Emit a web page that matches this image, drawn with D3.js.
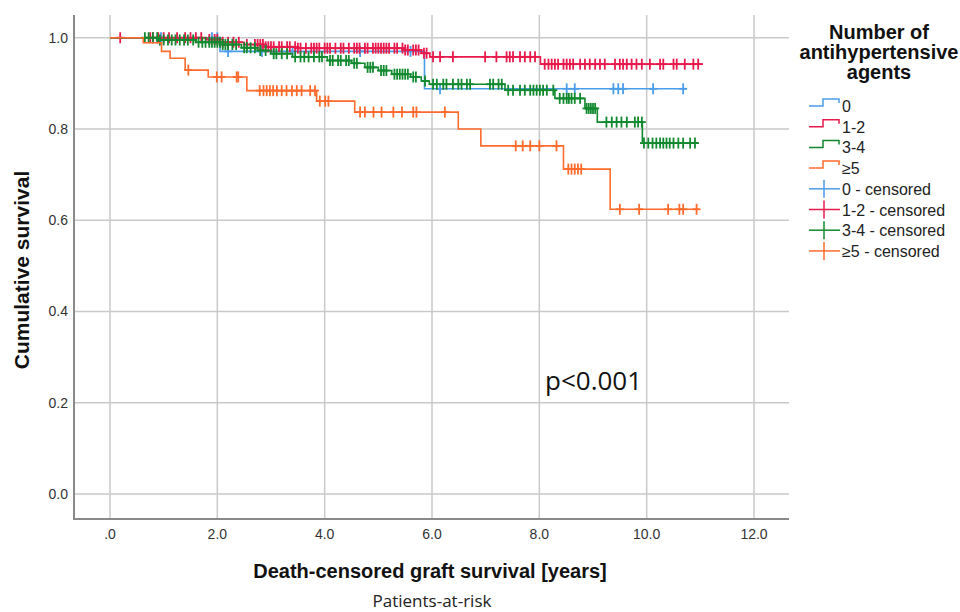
<!DOCTYPE html>
<html>
<head>
<meta charset="utf-8">
<script src="https://cdn.jsdelivr.net/npm/d3@7"></script>
<style>
  html, body { margin: 0; padding: 0; background: #fff; }
  svg { display: block; }
</style>
</head>
<body>
<svg id="chart" width="960" height="612"></svg>
<script>
// ---------------- DATA ----------------
const groups = ["0", "1-2", "3-4", "≥5"];
const legendTitle = ["Number of", "antihypertensive", "agents"];
const xTicks = [0, 2, 4, 6, 8, 10, 12];
const xTickLabels = [".0", "2.0", "4.0", "6.0", "8.0", "10.0", "12.0"];
const yTicks = [0, 0.2, 0.4, 0.6, 0.8, 1.0];
const yTickLabels = ["0.0", "0.2", "0.4", "0.6", "0.8", "1.0"];

// step events [time, survival] and end of follow-up per group
const steps0 = [[0, 1], [2.05, 0.97], [5.86, 0.888]];
const end0 = 10.74;
const censor0 = [0.95, 1.9, 2.0, 2.2, 2.83, 3.4, 4.66, 5.6, 6.15, 8.51, 8.66, 9.38, 9.47, 9.56, 10.12, 10.68];

const steps12 = [[0, 1], [1.8, 0.996], [2.1, 0.99], [2.5, 0.985], [2.9, 0.98], [3.5, 0.977],
  [5.5, 0.973], [5.8, 0.966], [5.96, 0.958], [8.02, 0.942]];
const end12 = 11.05;
const censor12 = [0.19, 0.75, 0.8, 0.9, 1.0, 1.1, 1.25, 1.4, 1.5, 1.6, 1.7, 1.85, 1.95, 2.0, 2.1,
  2.2, 2.3, 2.4, 2.55, 2.7, 2.75, 2.8, 2.85, 2.9, 2.95, 3.0, 3.05, 3.15, 3.2, 3.3, 3.35, 3.45, 3.5,
  3.55, 3.65, 3.75, 3.8, 3.85, 3.9, 4.0, 4.05, 4.1, 4.2, 4.3, 4.35, 4.45, 4.55, 4.6, 4.65, 4.75, 4.8,
  4.9, 4.95, 5.0, 5.05, 5.1, 5.15, 5.2, 5.3, 5.35, 5.45, 5.5, 5.55, 5.65, 5.7, 5.75, 5.85, 5.9,
  6.02, 6.15, 6.39, 6.99, 7.20, 7.39, 7.45, 7.51, 7.64, 7.73, 7.83, 7.92,
  8.10, 8.17, 8.23, 8.29, 8.35, 8.45, 8.51, 8.57, 8.63, 8.76, 8.85, 8.94, 9.04, 9.13, 9.22, 9.41,
  9.50, 9.56, 9.63, 9.72, 9.81, 9.91, 10.06, 10.25, 10.31, 10.50, 10.56, 10.71, 10.87, 10.96];

const steps34 = [[0, 1], [0.9, 0.995], [1.6, 0.99], [2.1, 0.985], [2.45, 0.978], [2.75, 0.972],
  [3.0, 0.965], [3.4, 0.958], [4.05, 0.95], [4.5, 0.944], [4.75, 0.935], [5.0, 0.928], [5.25, 0.92],
  [5.6, 0.914], [5.8, 0.905], [5.95, 0.898], [7.36, 0.885], [8.29, 0.867], [8.85, 0.845],
  [9.08, 0.815], [9.92, 0.769]];
const end34 = 10.96;
const censor34 = [0.65, 0.72, 0.8, 0.88, 0.93, 1.0, 1.08, 1.15, 1.22, 1.3, 1.38, 1.45, 1.55, 1.65,
  1.72, 1.78, 1.85, 1.9, 1.95, 2.0, 2.05, 2.1, 2.15, 2.2, 2.28, 2.35, 2.5, 2.55, 2.62, 2.7, 2.8, 2.9,
  3.05, 3.1, 3.2, 3.3, 3.45, 3.55, 3.62, 3.7, 3.8, 3.9, 3.95, 4.1, 4.15, 4.25, 4.3, 4.4, 4.45, 4.55,
  4.6, 4.8, 4.85, 4.9, 5.05, 5.1, 5.15, 5.3, 5.35, 5.4, 5.45, 5.5, 5.55, 5.65, 5.7, 5.87, 6.02, 6.09,
  6.21, 6.27, 6.39, 6.49, 6.55, 6.65, 6.71, 7.08, 7.14, 7.24, 7.30, 7.42, 7.51, 7.64, 7.73, 7.83,
  7.89, 7.95, 8.01, 8.07, 8.14, 8.26, 8.38, 8.45, 8.51, 8.55, 8.60, 8.66, 8.76, 8.88, 8.92, 8.96,
  9.0, 9.04, 9.25, 9.35, 9.44, 9.53, 9.63, 9.78, 9.84, 9.91, 9.95, 10.03, 10.11, 10.18, 10.25,
  10.31, 10.37, 10.43, 10.50, 10.59, 10.68, 10.81, 10.90];

const steps5 = [[0, 1], [0.62, 0.989], [0.96, 0.97], [1.12, 0.955], [1.40, 0.929], [1.83, 0.914],
  [2.55, 0.884], [3.85, 0.861], [4.56, 0.837], [6.49, 0.80], [6.91, 0.763], [8.45, 0.712], [9.32, 0.624]];
const end5 = 10.98;
const censor5 = [1.46, 1.99, 2.08, 2.36, 2.39, 2.79, 2.86, 2.92, 2.98, 3.04, 3.11, 3.20, 3.29, 3.39,
  3.48, 3.57, 3.73, 3.82, 3.91, 4.01, 4.07, 4.66, 4.75, 4.91, 5.06, 5.28, 5.44, 5.65, 5.71, 6.24,
  7.56, 7.69, 7.83, 8.0, 8.32, 8.54, 8.60, 8.66, 8.72, 8.78, 9.50, 9.86, 10.40, 10.61, 10.68, 10.93];

const colors = ["#4a9de9", "#e8194b", "#12892f", "#ff6b2c"];

// ---------------- CHART ----------------
const svg = d3.select("#chart");
const FONT = "Liberation Sans, Arial, sans-serif";

const x = d3.scaleLinear().domain([0, 12]).range([110, 754]);
const y = d3.scaleLinear().domain([0, 1]).range([494, 37.7]);
const plotLeft = 74, plotRight = 789, plotTop = 15, plotBottom = 519;

// gridlines
const grid = svg.append("g").attr("stroke", "#c9c9c9").attr("stroke-width", 1.5);
grid.selectAll("line.h").data(yTicks).join("line")
  .attr("x1", plotLeft).attr("x2", plotRight)
  .attr("y1", d => y(d)).attr("y2", d => y(d));
grid.selectAll("line.v").data(xTicks).join("line")
  .attr("x1", d => x(d)).attr("x2", d => x(d))
  .attr("y1", plotTop).attr("y2", plotBottom);

// axis lines
svg.append("line").attr("x1", plotLeft).attr("x2", plotLeft).attr("y1", plotTop).attr("y2", plotBottom + 1)
  .attr("stroke", "#8a8a8a").attr("stroke-width", 2);
svg.append("line").attr("x1", plotLeft).attr("x2", plotRight).attr("y1", plotBottom).attr("y2", plotBottom)
  .attr("stroke", "#8a8a8a").attr("stroke-width", 2);

// tick labels
svg.append("g").selectAll("text").data(yTicks).join("text")
  .attr("x", 68).attr("y", d => y(d) + 5)
  .attr("text-anchor", "end")
  .attr("font-family", FONT).attr("font-size", 14).attr("fill", "#333")
  .text((d, i) => yTickLabels[i]);
svg.append("g").selectAll("text").data(xTicks).join("text")
  .attr("x", d => x(d)).attr("y", 539)
  .attr("text-anchor", "middle")
  .attr("font-family", FONT).attr("font-size", 14).attr("fill", "#333")
  .text((d, i) => xTickLabels[i]);

// axis titles
svg.append("text").attr("x", 430).attr("y", 578).attr("text-anchor", "middle")
  .attr("font-family", FONT).attr("font-size", 20).attr("font-weight", "bold").attr("fill", "#111")
  .text("Death-censored graft survival [years]");
svg.append("text").attr("transform", "translate(29,270) rotate(-90)").attr("text-anchor", "middle")
  .attr("font-family", FONT).attr("font-size", 21).attr("font-weight", "bold").attr("fill", "#111")
  .text("Cumulative survival");
svg.append("text").attr("x", 432).attr("y", 607).attr("text-anchor", "middle")
  .attr("font-family", "Open Sans, sans-serif").attr("font-size", 17).attr("fill", "#222")
  .text("Patients-at-risk");
svg.append("text").attr("x", 545).attr("y", 390)
  .attr("font-family", "Open Sans, sans-serif").attr("font-size", 26).attr("fill", "#111")
  .text("p<0.001");

// curves
const series = [
  { steps: steps0, end: end0, censor: censor0 },
  { steps: steps12, end: end12, censor: censor12 },
  { steps: steps34, end: end34, censor: censor34 },
  { steps: steps5, end: end5, censor: censor5 }
];
const line = d3.line().x(d => x(d[0])).y(d => y(d[1])).curve(d3.curveStepAfter);
function survAt(steps, t) {
  let s = steps[0][1];
  for (const st of steps) { if (st[0] <= t) s = st[1]; }
  return s;
}
series.forEach((sr, gi) => {
  const pts = sr.steps.concat([[sr.end, sr.steps[sr.steps.length - 1][1]]]);
  const g = svg.append("g");
  g.append("path").attr("d", line(pts)).attr("fill", "none")
    .attr("stroke", colors[gi]).attr("stroke-width", 1.6);
  const cg = g.append("g").attr("stroke", colors[gi]).attr("stroke-width", 1.8);
  sr.censor.forEach(t => {
    const cx = x(t), cy = y(survAt(sr.steps, t));
    cg.append("line").attr("x1", cx).attr("x2", cx).attr("y1", cy - 5.5).attr("y2", cy + 5.5);
    cg.append("line").attr("x1", cx - 4).attr("x2", cx + 4).attr("y1", cy).attr("y2", cy);
  });
});

// legend
const lg = svg.append("g");
lg.selectAll("text.title").data(legendTitle).join("text")
  .attr("x", 879).attr("y", (d, i) => 39 + i * 20)
  .attr("text-anchor", "middle")
  .attr("font-family", FONT).attr("font-size", 20).attr("font-weight", "bold").attr("fill", "#111")
  .text(d => d);
const itemY = i => 106 + i * 20.7;
const legendItems = groups.map((g, i) => ({ label: g, color: colors[i], type: "step" }))
  .concat(groups.map((g, i) => ({ label: g + " - censored", color: colors[i], type: "censor" })));
legendItems.forEach((it, i) => {
  const cy = itemY(i);
  if (it.type === "step") {
    lg.append("path")
      .attr("d", `M809,${cy}H823V${cy - 7}H839V${cy - 3}`)
      .attr("fill", "none").attr("stroke", it.color).attr("stroke-width", 1.5);
  } else {
    lg.append("line").attr("x1", 809).attr("x2", 840).attr("y1", cy).attr("y2", cy)
      .attr("stroke", it.color).attr("stroke-width", 1.5);
    lg.append("line").attr("x1", 824).attr("x2", 824).attr("y1", cy - 9).attr("y2", cy + 9)
      .attr("stroke", it.color).attr("stroke-width", 1.5);
  }
  lg.append("text").attr("x", 842).attr("y", cy + 6)
    .attr("font-family", FONT).attr("font-size", 16).attr("fill", "#222")
    .text(it.label);
});
</script>
</body>
</html>
